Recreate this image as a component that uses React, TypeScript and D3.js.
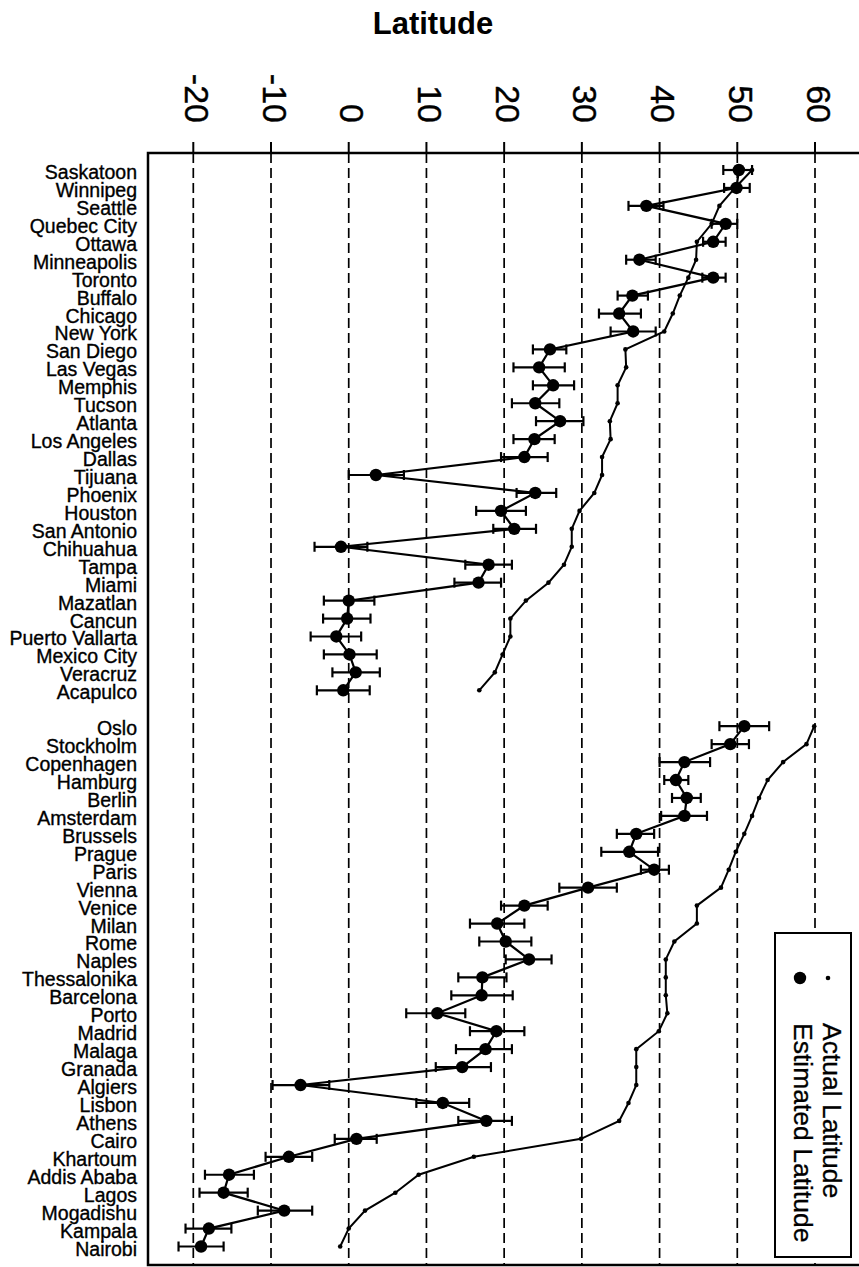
import { useRef, useEffect } from "react";
import * as d3 from "d3";

// North American cities, sorted by actual latitude
const citiesNA = [
  "Saskatoon", "Winnipeg", "Seattle", "Quebec City", "Ottawa", "Minneapolis",
  "Toronto", "Buffalo", "Chicago", "New York", "San Diego", "Las Vegas",
  "Memphis", "Tucson", "Atlanta", "Los Angeles", "Dallas", "Tijuana",
  "Phoenix", "Houston", "San Antonio", "Chihuahua", "Tampa", "Miami",
  "Mazatlan", "Cancun", "Puerto Vallarta", "Mexico City", "Veracruz", "Acapulco",
];
const actualNA = [
  51.9, 49.7, 47.7, 46.7, 44.8, 44.7, 43.7, 42.6, 41.7, 40.6, 35.6, 35.7,
  34.6, 34.6, 33.6, 33.7, 32.6, 32.6, 31.6, 29.7, 28.7, 28.7, 27.7, 25.7,
  22.8, 20.8, 20.8, 19.8, 18.8, 16.8,
];
const estimatedNA = [
  50.2, 49.9, 38.3, 48.5, 46.9, 37.4, 46.9, 36.5, 34.8, 36.6, 25.9, 24.5,
  26.3, 24.0, 27.2, 23.9, 22.6, 3.5, 24.0, 19.6, 21.3, -1.0, 18.0, 16.7,
  0.0, -0.2, -1.6, 0.1, 0.9, -0.7,
];
const lowNA = [
  48.2, 48.3, 36.0, 46.7, 45.6, 35.7, 45.5, 34.6, 32.2, 33.7, 23.7, 21.2,
  23.7, 21.0, 24.1, 21.2, 19.6, 0.0, 21.6, 16.4, 18.6, -4.4, 15.0, 13.6,
  -3.2, -3.3, -4.9, -3.2, -2.1, -4.1,
];
const highNA = [
  51.9, 51.6, 40.5, 50.0, 48.5, 39.5, 48.5, 38.5, 37.6, 39.5, 28.0, 27.8,
  29.0, 27.1, 30.2, 26.5, 25.6, 7.1, 26.7, 22.8, 24.1, 2.4, 21.0, 19.6,
  3.3, 2.8, 1.6, 3.6, 4.0, 2.7,
];

// European and African cities
const citiesEU = [
  "Oslo", "Stockholm", "Copenhagen", "Hamburg", "Berlin", "Amsterdam",
  "Brussels", "Prague", "Paris", "Vienna", "Venice", "Milan", "Rome",
  "Naples", "Thessalonika", "Barcelona", "Porto", "Madrid", "Malaga",
  "Granada", "Algiers", "Lisbon", "Athens", "Cairo", "Khartoum",
  "Addis Ababa", "Lagos", "Mogadishu", "Kampala", "Nairobi",
];
const actualEU = [
  59.9, 58.9, 55.9, 53.9, 52.8, 51.9, 50.9, 49.8, 48.9, 47.9, 44.8, 44.8,
  41.9, 40.8, 40.8, 40.8, 41.0, 39.9, 37.0, 37.0, 37.0, 36.0, 34.8, 29.9,
  16.1, 9.0, 6.0, 2.1, 0.0, -1.1,
];
const estimatedEU = [
  50.9, 49.1, 43.2, 42.1, 43.5, 43.2, 37.0, 36.1, 39.3, 30.8, 22.6, 19.1,
  20.2, 23.2, 17.2, 17.1, 11.4, 19.0, 17.6, 14.6, -6.2, 12.1, 17.7, 1.0,
  -7.7, -15.4, -16.1, -8.3, -18.0, -19.0,
];
const lowEU = [
  47.7, 46.7, 40.0, 40.6, 41.6, 40.2, 34.5, 32.5, 37.6, 27.1, 19.6, 15.6,
  16.8, 20.2, 14.1, 13.2, 7.4, 15.6, 13.8, 11.2, -9.8, 8.7, 14.1, -1.8,
  -10.7, -18.5, -19.2, -11.7, -21.0, -21.9,
];
const highEU = [
  54.1, 51.5, 46.5, 43.7, 45.3, 46.1, 39.3, 39.8, 41.2, 34.5, 25.6, 22.6,
  23.5, 26.1, 20.3, 21.1, 15.0, 22.6, 21.0, 18.3, -2.5, 15.5, 21.0, 3.6,
  -4.7, -12.2, -13.0, -4.7, -15.1, -16.1,
];

const xTicks = [-20, -10, 0, 10, 20, 30, 40, 50, 60];

type Row = {
  city: string;
  slot: number;
  actual: number;
  est: number;
  lo: number;
  hi: number;
};

const WIDTH = 859;
const HEIGHT = 1267;
const FONT = "'Liberation Sans', Arial, Helvetica, sans-serif";

function buildRows(
  cities: string[],
  actual: number[],
  est: number[],
  lo: number[],
  hi: number[],
  offset: number,
): Row[] {
  return cities.map((city, i) => ({
    city,
    slot: i + offset,
    actual: actual[i],
    est: est[i],
    lo: lo[i],
    hi: hi[i],
  }));
}

export default function App() {
  const ref = useRef<SVGSVGElement>(null);

  useEffect(() => {
    document.body.style.margin = "0";
    if (!ref.current) return;
    const svg = d3.select(ref.current);
    svg.selectAll("*").remove();

    // one blank slot between the two groups
    const groups = [
      buildRows(citiesNA, actualNA, estimatedNA, lowNA, highNA, 0),
      buildRows(citiesEU, actualEU, estimatedEU, lowEU, highEU, citiesNA.length + 1),
    ];
    const allRows = groups.flat();

    const frame = { left: 148, top: 153, bottom: 1265, right: WIDTH };

    const x = d3.scaleLinear().domain([-20, 60]).range([193.3, 815]);
    const y = d3.scaleLinear().domain([0, 60]).range([170, 1246.5]);

    svg
      .append("rect")
      .attr("width", WIDTH)
      .attr("height", HEIGHT)
      .attr("fill", "#fff");

    // Title
    svg
      .append("text")
      .attr("x", 433)
      .attr("y", 34)
      .attr("text-anchor", "middle")
      .attr("font-family", FONT)
      .attr("font-weight", "bold")
      .attr("font-size", 31)
      .text("Latitude");

    // Dashed grid lines
    svg
      .append("g")
      .selectAll("line")
      .data(xTicks)
      .join("line")
      .attr("x1", (d) => x(d))
      .attr("x2", (d) => x(d))
      .attr("y1", frame.top)
      .attr("y2", frame.bottom)
      .attr("stroke", "#000")
      .attr("stroke-width", 1.7)
      .attr("stroke-dasharray", "10 5");

    // Top axis ticks
    svg
      .append("g")
      .selectAll("line")
      .data(xTicks)
      .join("line")
      .attr("x1", (d) => x(d))
      .attr("x2", (d) => x(d))
      .attr("y1", frame.top - 11)
      .attr("y2", frame.top)
      .attr("stroke", "#000")
      .attr("stroke-width", 2);

    // Rotated tick labels
    svg
      .append("g")
      .selectAll("text")
      .data(xTicks)
      .join("text")
      .attr("transform", (d) => `translate(${x(d) - 8.5}, 123) rotate(90)`)
      .attr("text-anchor", "end")
      .attr("font-family", FONT)
      .attr("font-size", 34)
      .attr("stroke", "#000")
      .attr("stroke-width", 0.4)
      .text((d) => String(d));

    // Frame: top, left, bottom
    svg
      .append("path")
      .attr(
        "d",
        `M${frame.right},${frame.top}H${frame.left}V${frame.bottom}H${frame.right}`,
      )
      .attr("fill", "none")
      .attr("stroke", "#000")
      .attr("stroke-width", 2.5);

    // City labels
    svg
      .append("g")
      .selectAll("text")
      .data(allRows)
      .join("text")
      .attr("x", 137)
      .attr("y", (d) => y(d.slot) + 9)
      .attr("text-anchor", "end")
      .attr("font-family", FONT)
      .attr("font-size", 19.5)
      .attr("stroke", "#000")
      .attr("stroke-width", 0.35)
      .text((d) => d.city);

    const actualLine = d3
      .line<Row>()
      .x((d) => x(d.actual))
      .y((d) => y(d.slot));
    const estLine = d3
      .line<Row>()
      .x((d) => x(d.est))
      .y((d) => y(d.slot));

    groups.forEach((rows) => {
      const g = svg.append("g");

      // Actual latitude
      g.append("path")
        .attr("d", actualLine(rows))
        .attr("fill", "none")
        .attr("stroke", "#000")
        .attr("stroke-width", 2);
      g.selectAll("circle.actual")
        .data(rows)
        .join("circle")
        .attr("class", "actual")
        .attr("cx", (d) => x(d.actual))
        .attr("cy", (d) => y(d.slot))
        .attr("r", 2.3)
        .attr("fill", "#000");

      // Error bars
      const bars = g.selectAll("g.bar").data(rows).join("g").attr("class", "bar");
      bars
        .append("line")
        .attr("x1", (d) => x(d.lo))
        .attr("x2", (d) => x(d.hi))
        .attr("y1", (d) => y(d.slot))
        .attr("y2", (d) => y(d.slot))
        .attr("stroke", "#000")
        .attr("stroke-width", 2.2);
      bars
        .selectAll("line.cap")
        .data((d) => [
          { v: d.lo, s: d.slot },
          { v: d.hi, s: d.slot },
        ])
        .join("line")
        .attr("class", "cap")
        .attr("x1", (c) => x(c.v))
        .attr("x2", (c) => x(c.v))
        .attr("y1", (c) => y(c.s) - 5)
        .attr("y2", (c) => y(c.s) + 5)
        .attr("stroke", "#000")
        .attr("stroke-width", 2.2);

      // Estimated latitude
      g.append("path")
        .attr("d", estLine(rows))
        .attr("fill", "none")
        .attr("stroke", "#000")
        .attr("stroke-width", 2.2);
      g.selectAll("circle.est")
        .data(rows)
        .join("circle")
        .attr("class", "est")
        .attr("cx", (d) => x(d.est))
        .attr("cy", (d) => y(d.slot))
        .attr("r", 6.2)
        .attr("fill", "#000");
    });

    // Legend (rotated)
    const legend = svg.append("g");
    legend
      .append("rect")
      .attr("x", 775)
      .attr("y", 933)
      .attr("width", 76)
      .attr("height", 324)
      .attr("fill", "#fff")
      .attr("stroke", "#000")
      .attr("stroke-width", 2);
    const legendItems = [
      { label: "Actual Latitude", r: 2.3, lx: 828, tx: 823 },
      { label: "Estimated Latitude", r: 6.2, lx: 800, tx: 794 },
    ];
    legendItems.forEach((item) => {
      legend
        .append("circle")
        .attr("cx", item.lx)
        .attr("cy", 978)
        .attr("r", item.r)
        .attr("fill", "#000");
      legend
        .append("text")
        .attr("transform", `translate(${item.tx}, 1023) rotate(90)`)
        .attr("text-anchor", "start")
        .attr("font-family", FONT)
        .attr("font-size", 26.5)
        .attr("stroke", "#000")
        .attr("stroke-width", 0.3)
        .text(item.label);
    });
  }, []);

  return (
    <svg
      ref={ref}
      width={WIDTH}
      height={HEIGHT}
      style={{ display: "block", position: "absolute", left: 0, top: 0 }}
    />
  );
}
